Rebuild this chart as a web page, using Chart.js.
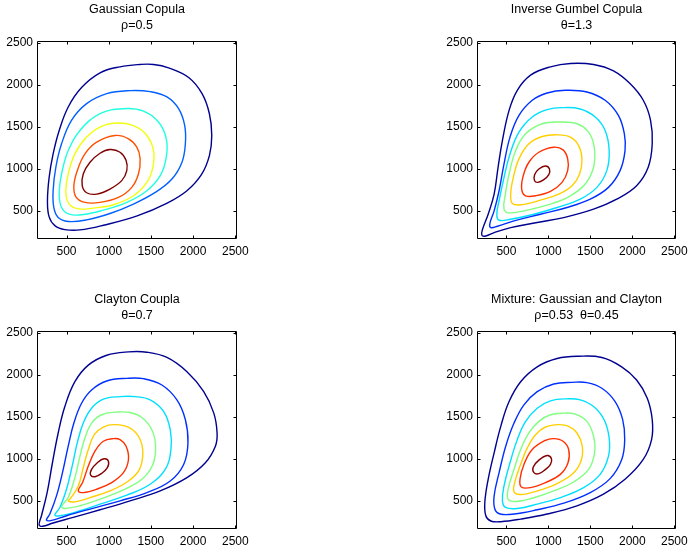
<!DOCTYPE html>
<html>
<head>
<meta charset="utf-8">
<script src="https://cdn.jsdelivr.net/npm/chart.js@4"></script>
<style>
  html, body { margin: 0; padding: 0; background: #fff; overflow: hidden; width: 688px; height: 551px; }
  canvas { position: absolute; }
</style>
</head>
<body>
<canvas id="c1" width="274" height="265" style="left:0px;top:0px"></canvas>
<canvas id="c2" width="273" height="265" style="left:440px;top:0px"></canvas>
<canvas id="c3" width="274" height="265" style="left:0px;top:290px"></canvas>
<canvas id="c4" width="273" height="265" style="left:440px;top:290px"></canvas>
<script>
// axis setup
const X_MIN = 150, X_MAX = 2520;
const Y_MIN = 165, Y_MAX = 2520;
const xTicks = [500, 1000, 1500, 2000, 2500];
const yTicks = [500, 1000, 1500, 2000, 2500];

// contour levels as [x, y]
const gaussNavy = [[1372,2241],[1134,2213],[897,2141],[678,1966],[520,1735],[413,1456],[341,1177],[294,898],[274,620],[294,428],[365,321],[480,277],[659,273],[940,329],[1337,440],[1693,592],[1927,739],[2098,930],[2193,1157],[2221,1396],[2193,1655],[2106,1894],[1947,2086],[1709,2201],[1531,2241]];
const gaussBlue = [[1253,1930],[1491,1918],[1690,1855],[1828,1715],[1900,1516],[1908,1297],[1868,1078],[1749,878],[1551,719],[1293,580],[1015,468],[738,392],[520,373],[401,420],[349,540],[341,739],[373,1018],[441,1297],[559,1576],[738,1775],[976,1894]];
const gaussCyan = [[1174,1715],[1412,1687],[1590,1556],[1682,1357],[1682,1137],[1610,918],[1452,739],[1214,600],[936,508],[698,456],[532,460],[441,540],[413,699],[441,938],[520,1217],[659,1456],[897,1655]];
const gaussYellow = [[1115,1544],[1313,1504],[1452,1396],[1531,1217],[1523,1018],[1452,839],[1293,679],[1055,572],[817,532],[639,524],[532,580],[492,719],[520,938],[599,1177],[738,1377],[916,1504]];
const gaussOrange = [[1075,1396],[1234,1357],[1333,1257],[1372,1118],[1352,938],[1273,779],[1115,659],[897,600],[718,600],[611,667],[587,799],[627,978],[718,1177],[857,1317]];
const gaussMaroon = [[1015,1229],[1134,1197],[1206,1098],[1214,978],[1154,859],[1015,759],[857,699],[738,715],[686,799],[698,938],[778,1078],[897,1185]];

const gumbelNavy = [[1262,2253],[1025,2213],[788,2114],[630,1934],[532,1695],[453,1337],[401,1018],[354,699],[283,460],[216,281],[208,209],[255,201],[354,241],[551,301],[867,361],[1183,420],[1538,520],[1814,639],[2051,799],[2189,1018],[2237,1297],[2217,1576],[2130,1815],[1972,2014],[1775,2165],[1538,2241]];
const gumbelBlue = [[1203,1934],[1459,1914],[1676,1815],[1834,1635],[1905,1416],[1913,1217],[1854,978],[1716,779],[1499,639],[1222,540],[907,460],[591,380],[393,317],[314,301],[303,349],[354,500],[413,739],[472,1058],[543,1377],[650,1635],[808,1815],[985,1902]];
const gumbelCyan = [[1163,1727],[1380,1711],[1558,1616],[1676,1456],[1724,1217],[1696,978],[1578,779],[1380,639],[1104,540],[828,460],[551,400],[413,388],[386,460],[413,620],[472,898],[543,1177],[650,1436],[808,1616],[985,1703]];
const gumbelGreen = [[1143,1556],[1341,1536],[1479,1436],[1546,1257],[1538,1018],[1439,819],[1262,679],[1025,580],[749,508],[532,476],[472,520],[484,679],[532,938],[611,1217],[729,1416],[926,1536]];
const gumbelOrange = [[1104,1404],[1262,1377],[1360,1277],[1400,1118],[1372,938],[1282,799],[1124,699],[907,627],[670,572],[571,588],[551,699],[583,898],[650,1118],[768,1297],[926,1384]];
const gumbelRed = [[1064,1257],[1175,1225],[1230,1118],[1230,978],[1163,839],[1025,731],[847,679],[729,679],[682,759],[701,918],[768,1078],[887,1197]];
const gumbelMaroon = [[966,1034],[1013,998],[1005,930],[946,871],[875,839],[836,859],[836,930],[887,998]];

const claytonNavy = [[1234,2272],[976,2232],[758,2114],[599,1917],[480,1622],[401,1307],[333,953],[270,598],[203,323],[175,213],[215,197],[341,236],[579,303],[897,394],[1253,500],[1610,618],[1927,776],[2145,953],[2264,1150],[2284,1307],[2245,1543],[2126,1799],[1927,2035],[1690,2205],[1452,2268]];
const claytonBlue = [[1214,1957],[976,1925],[797,1819],[678,1661],[587,1425],[520,1150],[452,835],[381,559],[302,343],[262,272],[310,264],[500,323],[778,402],[1134,500],[1452,598],[1729,736],[1888,933],[1939,1189],[1908,1465],[1808,1701],[1630,1878],[1412,1953]];
const claytonCyan = [[1134,1740],[936,1709],[797,1602],[698,1425],[627,1189],[567,913],[500,638],[421,421],[361,331],[421,323],[619,370],[897,461],[1214,567],[1491,697],[1670,874],[1737,1110],[1729,1346],[1650,1563],[1491,1701],[1313,1740]];
const claytonGreen = [[1095,1555],[916,1524],[797,1425],[718,1248],[659,1031],[599,776],[520,539],[441,433],[480,409],[659,441],[897,520],[1174,630],[1392,756],[1523,933],[1555,1150],[1511,1346],[1392,1492],[1253,1551]];
const claytonOrange = [[1075,1406],[936,1378],[829,1287],[758,1110],[698,894],[639,677],[548,528],[520,500],[599,488],[778,539],[1015,618],[1234,736],[1364,874],[1404,1071],[1364,1248],[1253,1366]];
const claytonRed = [[1055,1240],[936,1209],[837,1091],[758,913],[690,717],[639,618],[698,598],[857,638],[1035,717],[1174,835],[1234,992],[1206,1150],[1134,1228]];
const claytonMaroon = [[944,1000],[996,972],[984,894],[916,827],[837,787],[785,807],[797,874],[865,953]];

const mixNavy = [[1360,2220],[1104,2193],[867,2094],[670,1917],[532,1681],[433,1386],[354,1071],[283,756],[243,480],[255,323],[314,260],[433,252],[670,283],[985,343],[1341,441],[1656,579],[1913,756],[2130,992],[2229,1228],[2237,1465],[2178,1720],[2051,1937],[1873,2094],[1637,2205]];
const mixBlue = [[1282,1909],[1064,1890],[867,1799],[709,1642],[591,1425],[492,1150],[413,835],[354,559],[362,402],[425,343],[591,343],[867,394],[1183,472],[1499,598],[1735,764],[1874,992],[1909,1228],[1885,1465],[1795,1681],[1637,1839],[1459,1906]];
const mixCyan = [[1222,1713],[1025,1689],[867,1602],[729,1445],[630,1228],[543,953],[472,677],[453,500],[492,421],[630,409],[867,461],[1143,539],[1420,657],[1617,815],[1716,1031],[1724,1248],[1664,1465],[1538,1622],[1380,1701]];
const mixGreen = [[1183,1543],[1025,1524],[887,1445],[768,1307],[670,1110],[591,874],[520,638],[520,520],[611,492],[808,531],[1064,618],[1301,724],[1479,874],[1550,1071],[1538,1268],[1459,1445],[1321,1531]];
const mixOrange = [[1124,1406],[966,1378],[847,1287],[749,1130],[662,913],[599,717],[591,606],[670,575],[867,618],[1084,697],[1282,815],[1388,972],[1404,1150],[1341,1307],[1242,1386]];
const mixRed = [[1064,1240],[966,1220],[808,1110],[709,933],[662,756],[678,665],[788,657],[966,717],[1143,815],[1234,953],[1242,1110],[1175,1209]];
const mixMaroon = [[985,1039],[1037,1000],[1025,933],[966,874],[887,823],[828,835],[820,902],[887,984]];

// jet colours for 6 and 7 levels
const JET6 = ['#000090', '#0060ff', '#20ffdf', '#f0ff10', '#ff5000', '#800000'];
const JET7 = ['#000090', '#0030ff', '#00dfff', '#80ff80', '#ffcf00', '#ff3000', '#800000'];

const FONT = 'Liberation Sans, Arial, Helvetica, sans-serif';
const TICK = 3;
const HIDDEN = 'rgba(0,0,0,0)';

// box round the plot + inward tick marks on all four sides
const boxPlugin = {
  id: 'box',
  afterDraw(chart) {
    const { ctx, chartArea: a, scales } = chart;
    const x = scales.x, y = scales.y;
    const l = Math.round(a.left) + 0.5, r = Math.round(a.right) - 0.5;
    const t = Math.round(a.top) + 0.5, b = Math.round(a.bottom) - 0.5;
    ctx.save();
    ctx.strokeStyle = '#000';
    ctx.lineWidth = 1;
    ctx.beginPath();
    ctx.rect(l, t, r - l, b - t);
    x.ticks.forEach(tk => {
      const px = Math.round(x.getPixelForValue(tk.value)) + 0.5;
      ctx.moveTo(px, b); ctx.lineTo(px, b - TICK);
      ctx.moveTo(px, t); ctx.lineTo(px, t + TICK);
    });
    y.ticks.forEach(tk => {
      const py = Math.round(y.getPixelForValue(tk.value)) + 0.5;
      ctx.moveTo(l, py); ctx.lineTo(l + TICK, py);
      ctx.moveTo(r, py); ctx.lineTo(r - TICK, py);
    });
    ctx.stroke();
    ctx.restore();
  }
};

// wrap the ring one point each way so the spline is smooth where it closes;
// the two padding segments are drawn transparent
function closeLoop(pts) {
  const n = pts.length;
  const ring = [pts[n - 1], ...pts, pts[0], pts[1]];
  return ring.map(p => ({ x: p[0], y: p[1] }));
}

function makePanel(id, titleLines, levels, colors) {
  const datasets = levels.map((pts, i) => {
    const data = closeLoop(pts);
    const last = data.length - 1;
    return {
      data,
      showLine: true,
      borderColor: colors[i],
      borderWidth: 1.4,
      pointRadius: 0,
      tension: 0.4,
      fill: false,
      segment: {
        borderColor: c => (c.p0DataIndex === 0 || c.p1DataIndex === last) ? HIDDEN : undefined
      }
    };
  });

  return new Chart(document.getElementById(id), {
    type: 'scatter',
    data: { datasets },
    options: {
      responsive: false,
      animation: false,
      events: [],
      layout: { padding: 0 },
      plugins: {
        legend: { display: false },
        tooltip: { enabled: false },
        title: {
          display: true,
          text: titleLines,
          color: '#000',
          font: { family: FONT, size: 12.5, weight: 'normal', lineHeight: 1.28 },
          padding: { top: 2, bottom: 7 }
        }
      },
      scales: {
        x: {
          type: 'linear', min: X_MIN, max: X_MAX,
          afterBuildTicks: s => { s.ticks = xTicks.map(v => ({ value: v })); },
          afterFit: s => { s.height = 26; },
          grid: { display: false, drawTicks: false },
          border: { display: false },
          ticks: { color: '#000', font: { family: FONT, size: 12 }, padding: 5, maxRotation: 0, autoSkip: false,
                   callback: v => String(v) }
        },
        y: {
          type: 'linear', min: Y_MIN, max: Y_MAX,
          afterBuildTicks: s => { s.ticks = yTicks.map(v => ({ value: v })); },
          afterFit: s => { s.width = 37; },
          grid: { display: false, drawTicks: false },
          border: { display: false },
          ticks: { color: '#000', font: { family: FONT, size: 12 }, padding: 4, autoSkip: false,
                   callback: v => String(v) }
        },
        y2: {
          type: 'linear', position: 'right', min: Y_MIN, max: Y_MAX,
          afterFit: s => { s.width = 37; },
          grid: { display: false, drawTicks: false },
          border: { display: false },
          ticks: { display: false }
        }
      }
    },
    plugins: [boxPlugin]
  });
}

makePanel('c1', ['Gaussian Copula', 'ρ=0.5'],
  [gaussNavy, gaussBlue, gaussCyan, gaussYellow, gaussOrange, gaussMaroon], JET6);
makePanel('c2', ['Inverse Gumbel Copula', 'θ=1.3'],
  [gumbelNavy, gumbelBlue, gumbelCyan, gumbelGreen, gumbelOrange, gumbelRed, gumbelMaroon], JET7);
makePanel('c3', ['Clayton Coupla', 'θ=0.7'],
  [claytonNavy, claytonBlue, claytonCyan, claytonGreen, claytonOrange, claytonRed, claytonMaroon], JET7);
makePanel('c4', ['Mixture: Gaussian and Clayton', 'ρ=0.53  θ=0.45'],
  [mixNavy, mixBlue, mixCyan, mixGreen, mixOrange, mixRed, mixMaroon], JET7);
</script>
</body>
</html>
